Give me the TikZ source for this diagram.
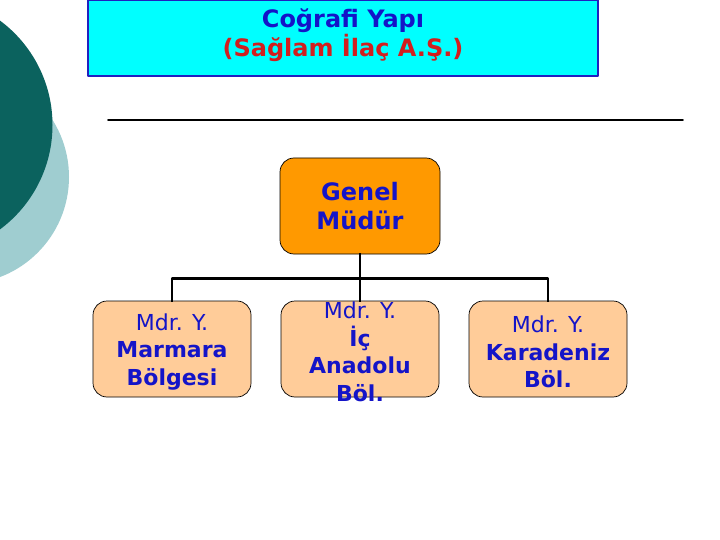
\documentclass[tikz,border=0pt]{standalone}
\usepackage{fontspec}
\setmainfont{DejaVu Sans}
\usetikzlibrary{positioning}

\definecolor{koyu}{RGB}{11,98,94}
\definecolor{acik}{RGB}{159,205,208}
\definecolor{camgobegi}{RGB}{0,255,255}
\definecolor{cerceve}{RGB}{32,32,192}
\definecolor{kirmizi}{RGB}{210,30,30}
\definecolor{mavi}{RGB}{20,20,200}
\definecolor{turuncu}{RGB}{255,153,0}
\definecolor{seftali}{RGB}{255,204,153}

\newcommand{\kutumetni}[2][-8pt]{\smash{\raisebox{#1}{\parbox[c]{156pt}{\centering #2}}}}

\begin{document}
\begin{tikzpicture}[line cap=round,line join=round,x=1pt,y=-1pt,
  kutu/.style={draw=black,line width=0.7pt,rounded corners=14pt,fill=seftali,
    minimum width=158pt,minimum height=96pt,inner sep=0pt,text=mavi,
    font=\fontsize{22}{27.5}\selectfont},
  baglanti/.style={line width=2.6pt,line cap=rect}]
\useasboundingbox (0,0) rectangle (720,540);
\fill[white] (0,0) rectangle (720,540);
% arka plan daireleri
\begin{scope}
\clip (0,0) rectangle (720,540);
\fill[acik] (-38,177) circle (107);
\fill[koyu] (-77.5,125) circle (130);
\end{scope}
% baslik
\node[draw=cerceve,fill=camgobegi,line width=1.4pt,minimum width=510pt,minimum height=76pt,
  align=center,font=\bfseries\fontsize{24}{29}\selectfont] (baslik) at (343,38)
  {\textcolor{mavi}{Coğrafi Yapı}\\\textcolor{kirmizi}{(Sağlam İlaç A.Ş.)}\rule[-11pt]{0pt}{1pt}};
\draw[line width=1.8pt] (108,120) -- (683,120);
% kutular
\node[kutu,fill=turuncu,minimum width=160pt,font=\fontsize{24}{29}\selectfont] (genel) at (360,206)
  {\kutumetni[-6.5pt]{\bfseries Genel\\Müdür}};
\node[kutu] (marmara) at (172,349) {\kutumetni{Mdr. Y.\\\bfseries Marmara\\Bölgesi}};
\node[kutu] (icanadolu) at (360,349) {\kutumetni{Mdr. Y.\\\bfseries İç\\Anadolu\\Böl.}};
\node[kutu] (karadeniz) at (548,349) {\kutumetni{Mdr. Y.\\\bfseries Karadeniz\\Böl.}};
% baglantilar
\draw[baglanti] (genel.south) -- ++(0,24) coordinate (orta);
\draw[baglanti] (marmara.north) |- (orta) -| (karadeniz.north);
\draw[baglanti] (orta) -- (icanadolu.north);
\end{tikzpicture}
\end{document}
